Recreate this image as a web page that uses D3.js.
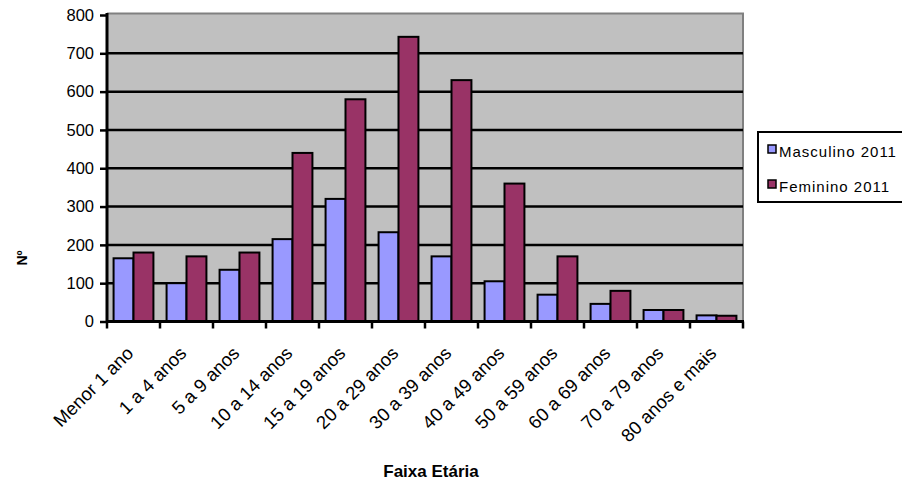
<!DOCTYPE html>
<html>
<head>
<meta charset="utf-8">
<script src="https://cdn.jsdelivr.net/npm/d3@7"></script>
<style>
  body { margin: 0; background: #fff; }
  svg { display: block; font-family: "Liberation Sans", Arial, sans-serif; }
</style>
</head>
<body>
<svg id="chart" width="902" height="487"></svg>
<script>
const categories = ["Menor 1 ano", "1 a 4 anos", "5 a 9 anos", "10 a 14 anos", "15 a 19 anos", "20 a 29 anos", "30 a 39 anos", "40 a 49 anos", "50 a 59 anos", "60 a 69 anos", "70 a 79 anos", "80 anos e mais"];
const seriesNames = ["Masculino 2011", "Feminino 2011"];
const masculino = [165, 100, 135, 215, 320, 233, 170, 105, 70, 46, 30, 16];
const feminino = [180, 170, 180, 440, 580, 743, 630, 360, 170, 80, 30, 15];
const yTicks = [0, 100, 200, 300, 400, 500, 600, 700, 800];
const colors = ["#9999ff", "#993366"];

const svg = d3.select("#chart");
const pL = 107, pR = 743, pT = 15, pB = 321.5;

const x = d3.scaleBand().domain(categories).range([pL, pR]).paddingInner(0).paddingOuter(0);
const x1 = d3.scaleBand().domain(seriesNames).range([0, x.bandwidth()]).paddingInner(0).paddingOuter(0.33);
const y = d3.scaleLinear().domain([0, 800]).range([pB, pT]);

// plot background
svg.append("rect").attr("x", pL).attr("y", pT - 1.5).attr("width", pR - pL).attr("height", pB - pT + 1.5)
  .attr("fill", "#c0c0c0");
// top/right border (gray)
svg.append("path")
  .attr("d", `M${pL},${pT - 1.5}H${pR}V${pB}`)
  .attr("fill", "none").attr("stroke", "#808080").attr("stroke-width", 2);

// gridlines
svg.append("g").selectAll("line").data(yTicks.filter(d => d > 0 && d < 800)).join("line")
  .attr("x1", pL).attr("x2", pR).attr("y1", d => y(d)).attr("y2", d => y(d))
  .attr("stroke", "#000").attr("stroke-width", 2.5);

// bars
const data = categories.map((c, i) => ({ c, vals: [masculino[i], feminino[i]] }));
const groups = svg.append("g").selectAll("g").data(data).join("g")
  .attr("transform", d => `translate(${x(d.c)},0)`);
groups.selectAll("rect").data(d => d.vals.map((v, j) => ({ v, s: seriesNames[j], j }))).join("rect")
  .attr("x", d => x1(d.s))
  .attr("width", x1.bandwidth())
  .attr("y", d => y(d.v))
  .attr("height", d => y(0) - y(d.v))
  .attr("fill", d => colors[d.j])
  .attr("stroke", "#000").attr("stroke-width", 2);

// y axis
const yAxis = d3.axisLeft(y).tickValues(yTicks).tickSize(7).tickPadding(6).tickSizeOuter(0);
const yg = svg.append("g").attr("transform", `translate(${pL},0)`).call(yAxis);
yg.select(".domain").attr("stroke", "#000").attr("stroke-width", 3).attr("d", `M0,${pT - 2}V${pB + 1}`);
yg.selectAll(".tick line").attr("stroke", "#000").attr("stroke-width", 2.5);
yg.selectAll(".tick text").attr("font-size", 16.5).attr("fill", "#000").attr("font-family", "Liberation Sans, Arial, sans-serif");

// x axis
const xAxis = d3.axisBottom(x).tickSize(0).tickFormat("");
const xg = svg.append("g").attr("transform", `translate(0,${pB})`).call(xAxis);
xg.select(".domain").attr("stroke", "#000").attr("stroke-width", 3).attr("d", `M${pL - 1},0H${pR + 1}`);
const bounds = categories.map(c => x(c)).concat([pR]);
xg.selectAll(".bt").data(bounds).join("line").attr("class", "bt")
  .attr("x1", d => d).attr("x2", d => d).attr("y1", 0).attr("y2", 7)
  .attr("stroke", "#000").attr("stroke-width", 2.5);
xg.selectAll(".lbl").data(categories).join("text").attr("class", "lbl")
  .attr("transform", d => `translate(${x(d) + x.bandwidth() / 2 + 1},${33}) rotate(-45)`)
  .attr("text-anchor", "end")
  .attr("font-size", 18.5).attr("fill", "#000")
  .text(d => d);

// axis titles
svg.append("text").attr("x", 431).attr("y", 477).attr("text-anchor", "middle")
  .attr("font-size", 17).attr("font-weight", "bold").attr("fill", "#000").text("Faixa Etária");
svg.append("text").attr("transform", "translate(27,258) rotate(-90)").attr("text-anchor", "middle")
  .attr("font-size", 14).attr("font-weight", "bold").attr("fill", "#000").text("Nº");

// legend
const lg = svg.append("g");
lg.append("rect").attr("x", 758).attr("y", 132).attr("width", 146).attr("height", 70)
  .attr("fill", "#fff").attr("stroke", "#000").attr("stroke-width", 2);
const li = lg.selectAll(".li").data(seriesNames).join("g").attr("class", "li")
  .attr("transform", (d, i) => `translate(768,${145 + i * 35})`);
li.append("rect").attr("width", 8).attr("height", 8).attr("fill", (d, i) => colors[i])
  .attr("stroke", "#000").attr("stroke-width", 1.5);
li.append("text").attr("x", 11).attr("y", 11.5).attr("font-size", 15).attr("letter-spacing", 1)
  .attr("fill", "#000").text(d => d);
</script>
</body>
</html>
